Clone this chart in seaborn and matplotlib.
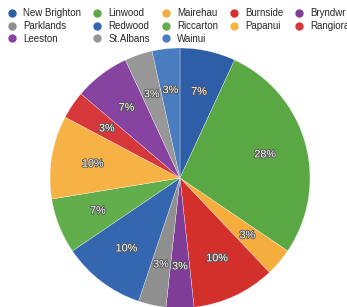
import matplotlib
matplotlib.use("Agg")
import matplotlib.pyplot as plt
import matplotlib.patheffects as pe
from matplotlib.lines import Line2D
import seaborn as sns

# --- Data ---
suburbs = ["New Brighton", "Linwood", "Mairehau", "Burnside", "Bryndwr",
           "Parklands", "Redwood", "Riccarton", "Papanui", "Rangiora",
           "Leeston", "St.Albans", "Wainui"]
counts = [2, 8, 1, 3, 1, 1, 3, 2, 3, 1, 2, 1, 1]

blue, green, orange = "#2f5ea8", "#5aa843", "#f5ad3d"
red, purple, gray = "#d3302c", "#7f3d98", "#8f8f8f"
colors = [blue, green, orange, red, purple, gray,
          "#3566b0", "#62ad4c", "#f7b246", "#d6373a", "#86439f", "#979797", "#4a7cc0"]

sns.set_theme(style="white")
plt.rcParams["font.family"] = ["Liberation Sans", "DejaVu Sans"]

fig = plt.figure(figsize=(3.47, 3.07), dpi=100)
ax = fig.add_axes([50 / 347, -1 / 307, 260 / 347, 260 / 307])

wedges, _, autotexts = ax.pie(
    counts, colors=colors, startangle=90, counterclock=False,
    autopct=lambda p: f"{round(p)}%", pctdistance=0.68,
    wedgeprops=dict(linewidth=0.2, edgecolor="white"),
    textprops=dict(color="white", fontsize=7.8),
)
for t in autotexts:
    t.set_path_effects([pe.withStroke(linewidth=1.3, foreground="#555555")])
ax.set_aspect("equal")
ax.set_xlim(-1, 1)
ax.set_ylim(-1, 1)
ax.axis("off")

# legend reads row by row in the reference; matplotlib fills columns first
ncol = 5
order = [i for c in range(ncol) for i in range(c, len(suburbs), ncol)]
handles = [Line2D([], [], marker="o", linestyle="", markersize=5,
                  markerfacecolor=colors[i], markeredgecolor=colors[i]) for i in order]
labels = [suburbs[i] for i in order]
fig.legend(handles, labels, ncol=ncol, loc="upper left", bbox_to_anchor=(0.003, 0.995),
           frameon=False, fontsize=7, handlelength=0.8, handletextpad=0.75,
           columnspacing=1.25, labelspacing=0.28, borderaxespad=0.3)

fig.savefig("out.png", dpi=100)
